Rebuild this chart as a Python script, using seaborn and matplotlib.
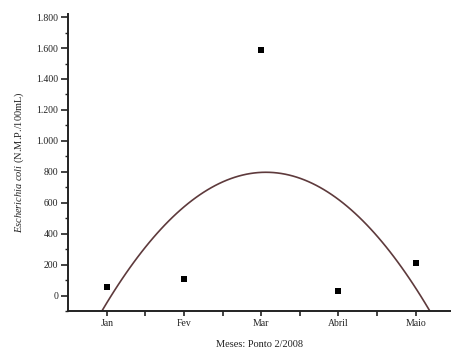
import matplotlib
matplotlib.use("Agg")
import matplotlib.pyplot as plt
from matplotlib.ticker import FixedLocator, FuncFormatter, MultipleLocator
import numpy as np
import pandas as pd
import seaborn as sns

# Monthly E. coli counts, point 2 / 2008
months = ["Jan", "Fev", "Mar", "Abril", "Maio"]
month_pos = [1, 2, 3, 4, 5]
ecoli = [52, 110, 1590, 26, 213]

df = pd.DataFrame({"mes": month_pos, "ecoli": ecoli})

sns.set_theme(style="ticks")
plt.rcParams["font.family"] = ["Liberation Serif", "DejaVu Serif"]
plt.rcParams["mathtext.fontset"] = "custom"
plt.rcParams["mathtext.rm"] = "Liberation Serif"
plt.rcParams["mathtext.it"] = "Liberation Serif:italic"

fig = plt.figure(figsize=(4.52, 3.51), dpi=100)
ax = fig.add_axes([0.150, 0.114, 0.850, 0.846])

XLIM = (0.495, 5.47)
YLIM = (-100, 1820)
ax.set_xlim(*XLIM)
ax.set_ylim(*YLIM)

# Second-order polynomial trend across the months
sns.regplot(data=df, x="mes", y="ecoli", order=2, ci=None, truncate=False,
            scatter=False, ax=ax,
            line_kws={"color": "#5e3a3c", "linewidth": 1.2})
sns.scatterplot(data=df, x="mes", y="ecoli", marker="s", s=14, color="black",
                edgecolor="black", linewidth=0, ax=ax, zorder=3)

ax.set_xlim(*XLIM)
ax.set_ylim(*YLIM)

ax.xaxis.set_major_locator(FixedLocator(month_pos))
ax.set_xticklabels(months)
ax.xaxis.set_minor_locator(FixedLocator([1.5, 2.5, 3.5, 4.5]))
ax.yaxis.set_major_locator(FixedLocator(list(range(0, 1801, 200))))
ax.yaxis.set_minor_locator(MultipleLocator(100))
ax.yaxis.set_major_formatter(
    FuncFormatter(lambda v, _: f"{int(v):,}".replace(",", ".")))

ax.tick_params(axis="y", which="major", length=5, width=1.2)
ax.tick_params(axis="y", which="minor", length=2, width=1.0)
ax.tick_params(axis="x", which="both", length=3.5, width=1.2)
ax.tick_params(axis="both", which="both", labelsize=7, color="#222222",
               labelcolor="#222222", pad=2)

for side in ("top", "right"):
    ax.spines[side].set_visible(False)
for side in ("left", "bottom"):
    ax.spines[side].set_linewidth(1.4)
    ax.spines[side].set_color("#222222")

ax.set_xlabel("Meses: Ponto 2/2008", fontsize=7.5, color="#222222", labelpad=9)
ax.set_ylabel(r"$Escherichia\ coli$ (N.M.P./100mL)", fontsize=7.5,
              color="#222222", labelpad=7)

fig.savefig("out.png", dpi=100)
